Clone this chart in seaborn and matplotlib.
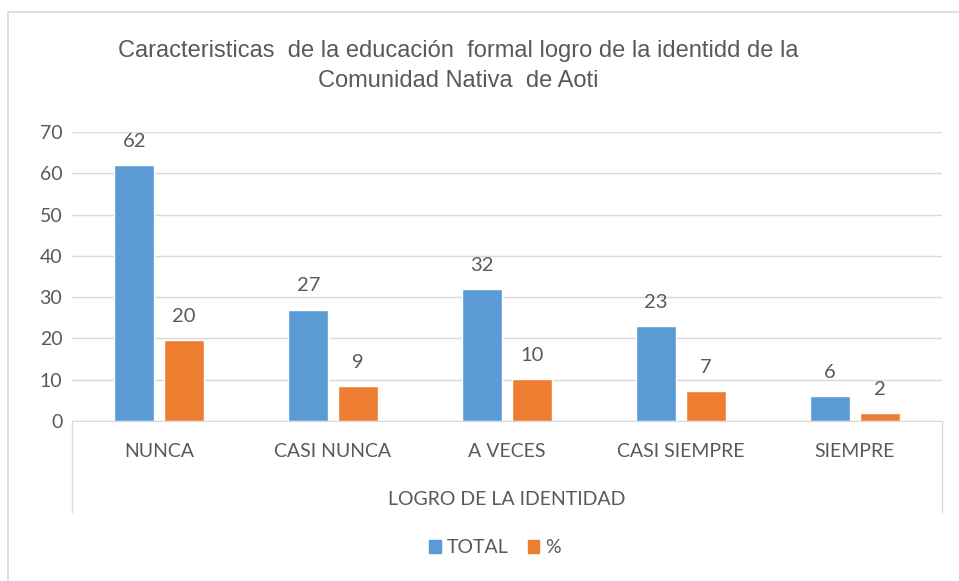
import pandas as pd
import matplotlib
matplotlib.use("Agg")
import matplotlib.pyplot as plt
import seaborn as sns
from matplotlib.patches import Rectangle
from matplotlib.lines import Line2D

# values
categories = ["NUNCA", "CASI NUNCA", "A VECES", "CASI SIEMPRE", "SIEMPRE"]
total = [62, 27, 32, 23, 6]
pct = [19.6, 8.5, 10.1, 7.3, 1.9]
series_names = ["TOTAL", "%"]
colors = ["#5B9BD5", "#ED7D31"]

title = ("Caracteristicas  de la educación  formal logro de la identidd de la\n"
         "Comunidad Nativa  de Aoti")
xlabel = "LOGRO DE LA IDENTIDAD"

df = pd.DataFrame({
    "cat": categories * 2,
    "serie": [series_names[0]] * len(categories) + [series_names[1]] * len(categories),
    "valor": total + pct,
})

sns.set_style("white")
plt.rcParams["font.family"] = ["Lato", "DejaVu Sans"]
text_color = "#595959"

fig = plt.figure(figsize=(9.59, 5.81), dpi=100)
ax = fig.add_axes([0.0751, 0.2754, 0.9072, 0.4974])

sns.barplot(data=df, x="cat", y="valor", hue="serie", palette=colors,
            order=categories, hue_order=series_names,
            width=0.57, gap=0.2, saturation=1, ax=ax, legend=False)

ax.set_ylim(0, 70)
ax.set_yticks(range(0, 71, 10))
ax.set_xlim(-0.5, len(categories) - 0.5)
ax.yaxis.grid(True, color="#D9D9D9", linewidth=1)
ax.set_axisbelow(True)
for side in ["top", "right", "left"]:
    ax.spines[side].set_visible(False)
ax.spines["bottom"].set_color("#D9D9D9")
ax.tick_params(axis="both", length=0, colors=text_color, labelsize=14)
ax.tick_params(axis="x", pad=16)
ax.tick_params(axis="y", pad=7)
ax.set_ylabel("")
ax.set_xlabel(xlabel, fontsize=14, color=text_color, va="center")
ax.xaxis.set_label_coords(0.5, -0.27)

for container in ax.containers:
    ax.bar_label(container, labels=[f"{int(b.get_height() + 0.5)}" for b in container],
                 padding=11, fontsize=14.5, color=text_color)

# category axis box (left/right dividers)
for xa in [0, 1]:
    ax.add_line(Line2D([xa, xa], [0, -0.315], transform=ax.transAxes,
                       color="#D9D9D9", linewidth=1, clip_on=False))

fig.text(0.478, 0.886, title, ha="center", va="center", fontsize=17,
         color=text_color, linespacing=1.5,
         family=["Liberation Sans", "DejaVu Sans"])

handles = [Rectangle((0, 0), 1, 1, color=c) for c in colors]
fig.legend(handles, series_names, loc="center", bbox_to_anchor=(0.516, 0.057),
           ncol=2, frameon=False, fontsize=14, labelcolor=text_color,
           handlelength=0.6, handleheight=0.6, handletextpad=0.3, columnspacing=1.0)

# chart border
fig.add_artist(Rectangle((0.0083, -0.05), 1.2, 1.029, transform=fig.transFigure,
                         fill=False, edgecolor="#D9D9D9", linewidth=1.2))

fig.savefig("out.png", dpi=100)
